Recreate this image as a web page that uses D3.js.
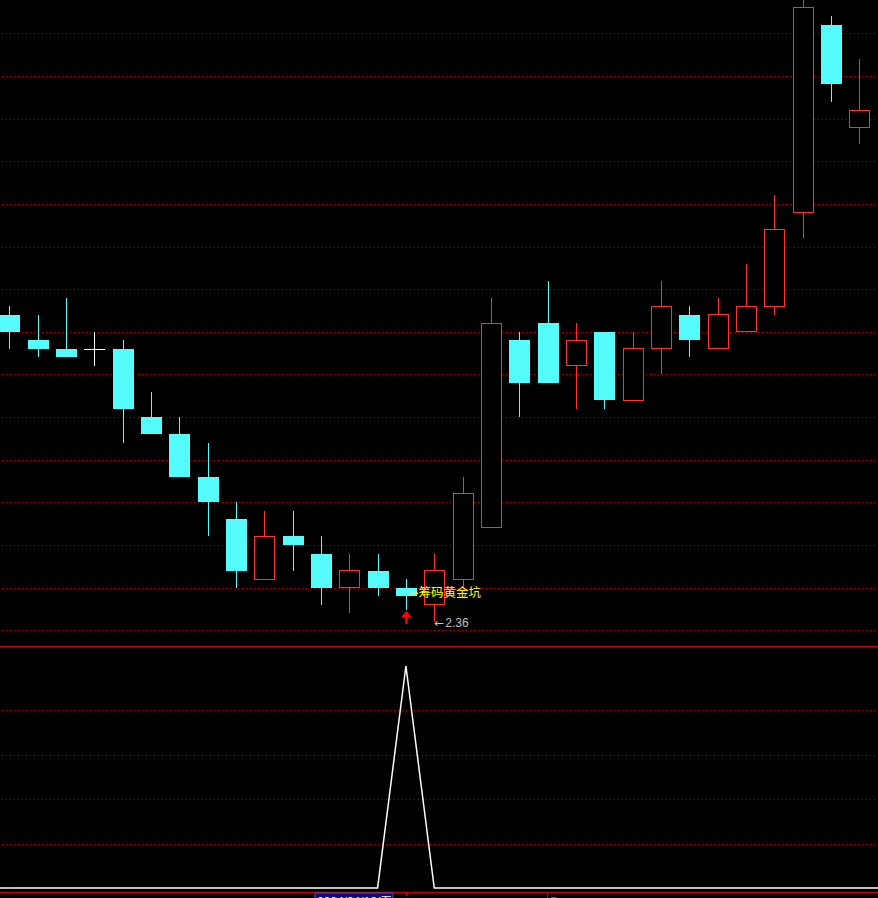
<!DOCTYPE html>
<html>
<style>
body { margin: 0; background: #000; }
svg { display: block; }
.grid line {
  stroke: #b00000;
  stroke-width: 1px;
  stroke-dasharray: 1,3;
}
</style>
<svg></svg>
<script src="https://cdn.jsdelivr.net/npm/d3@7"></script>
<script>
// daily OHLC, oldest first (last candle is cut off at the right edge)
var opens  = [2.72, 2.69, 2.68, 2.68, 2.68, 2.60, 2.58, 2.53, 2.48, 2.41, 2.46, 2.44, 2.40, 2.42, 2.40, 2.38,
              2.41, 2.47, 2.69, 2.71, 2.66, 2.70, 2.62, 2.68, 2.72, 2.68, 2.70, 2.73, 2.84, 3.06, 2.94, 2.95];
var highs  = [2.73, 2.72, 2.74, 2.70, 2.69, 2.63, 2.60, 2.57, 2.50, 2.49, 2.49, 2.46, 2.44, 2.44, 2.41, 2.44,
              2.53, 2.74, 2.70, 2.76, 2.71, 2.70, 2.70, 2.76, 2.73, 2.74, 2.78, 2.86, 3.10, 3.07, 3.02, 3.02];
var lows   = [2.68, 2.67, 2.67, 2.66, 2.57, 2.58, 2.53, 2.46, 2.40, 2.41, 2.42, 2.38, 2.37, 2.39, 2.374, 2.36,
              2.40, 2.47, 2.60, 2.64, 2.61, 2.61, 2.62, 2.65, 2.67, 2.68, 2.70, 2.72, 2.81, 2.97, 2.92, 2.94];
var closes = [2.70, 2.68, 2.67, 2.68, 2.61, 2.58, 2.53, 2.50, 2.42, 2.46, 2.45, 2.40, 2.42, 2.40, 2.39, 2.42,
              2.51, 2.71, 2.64, 2.64, 2.69, 2.62, 2.68, 2.73, 2.69, 2.72, 2.73, 2.82, 3.08, 2.99, 2.96, 3.00];

// lower pane signal (chip "golden pit")
var signal = [0, 0, 0, 0, 0, 0, 0, 0, 0, 0, 0, 0, 0, 0, 1, 0,
              0, 0, 0, 0, 0, 0, 0, 0, 0, 0, 0, 0, 0, 0, 0, 0];

var priceTicks = d3.range(15).map(function(i) { return 2.35 + i * 0.05; });
var signalTicks = [0.2, 0.4, 0.6, 0.8];
var signalIndex = 14;
var signalLabel = "筹码黄金坑";
var lowIndex = 15;
var lowLabel = "2.36";
var cursorDate = "2024/04/18/五";
var monthIndex = 19, monthLabel = "5";

var width = 878, height = 898;
var svg = d3.select("svg").attr("width", width).attr("height", height);
svg.append("rect").attr("width", width).attr("height", height).attr("fill", "#000");

var x = d3.scaleLinear().domain([0, 31]).range([9.3, 9.3 + 31 * 28.33]);
var y = d3.scaleLinear().domain([2.35, 3.05]).range([630.3, 33.3]);
var ys = d3.scaleLinear().domain([0, 1]).range([888, 666]);

var up = "#ff3232", down = "#54fcfc";

// grids
var grid = svg.append("g").attr("class", "grid");
grid.selectAll("line.p").data(priceTicks).enter().append("line")
    .attr("x1", 2).attr("x2", width)
    .attr("y1", function(d) { return Math.round(y(d)) + 0.5; })
    .attr("y2", function(d) { return Math.round(y(d)) + 0.5; });
grid.selectAll("line.s").data(signalTicks).enter().append("line")
    .attr("x1", 2).attr("x2", width)
    .attr("y1", function(d) { return Math.round(ys(d)) + 0.5; })
    .attr("y2", function(d) { return Math.round(ys(d)) + 0.5; });

// pane separator
svg.append("line").attr("x1", 0).attr("x2", width).attr("y1", 646.5).attr("y2", 646.5)
    .attr("stroke", "#c40000").attr("stroke-width", 1.5);

var candles = opens.map(function(o, i) {
  return { i: i, o: o, h: highs[i], l: lows[i], c: closes[i] };
});

var cg = svg.append("g").attr("shape-rendering", "crispEdges");

function colorOf(d) {
  if (d.c > d.o) return up;
  if (d.c < d.o) return down;
  return "#ffffff";
}

var k = cg.selectAll("g").data(candles).enter().append("g");

// upper wick
k.append("line")
    .attr("x1", function(d) { return Math.round(x(d.i)) + 0.5; })
    .attr("x2", function(d) { return Math.round(x(d.i)) + 0.5; })
    .attr("y1", function(d) { return y(d.h); })
    .attr("y2", function(d) { return y(Math.max(d.o, d.c)); })
    .attr("stroke", colorOf);
// lower wick
k.append("line")
    .attr("x1", function(d) { return Math.round(x(d.i)) + 0.5; })
    .attr("x2", function(d) { return Math.round(x(d.i)) + 0.5; })
    .attr("y1", function(d) { return y(Math.min(d.o, d.c)); })
    .attr("y2", function(d) { return y(d.l); })
    .attr("stroke", colorOf);

// bodies: filled for falling, hollow for rising, a bar for flat
k.append("rect")
    .attr("x", function(d) { return d.c > d.o ? Math.round(x(d.i)) - 10 + 0.5 : Math.round(x(d.i)) - 10; })
    .attr("y", function(d) {
      if (d.c === d.o) return Math.round(y(d.o));
      return y(Math.max(d.o, d.c));
    })
    .attr("width", function(d) { return d.c > d.o ? 20 : 21; })
    .attr("height", function(d) {
      if (d.c === d.o) return 1;
      return Math.abs(y(d.o) - y(d.c));
    })
    .attr("fill", function(d) { return d.c > d.o ? "#000" : colorOf(d); })
    .attr("stroke", function(d) { return d.c > d.o ? up : "none"; })
    .attr("stroke-width", 1);

// red arrow under the signal candle
var ax = Math.round(x(signalIndex)) + 0.5, ay = y(lows[signalIndex]) + 1;
svg.append("path")
    .attr("d", "M" + ax + "," + ay + "L" + (ax + 5.5) + "," + (ay + 6.5) + "L" + (ax + 1.3) + "," + (ay + 6.5) +
               "L" + (ax + 1.3) + "," + (ay + 13) + "L" + (ax - 1.3) + "," + (ay + 13) +
               "L" + (ax - 1.3) + "," + (ay + 6.5) + "L" + (ax - 5.5) + "," + (ay + 6.5) + "Z")
    .attr("fill", "#ff0000");

var sig = svg.append("text")
    .attr("x", x(signalIndex) + 2)
    .attr("y", y(closes[signalIndex]) + 1)
    .attr("fill", "#ffff00")
    .style("font", "12.5px 'Noto Sans CJK SC'");
sig.append("tspan").style("font-family", "'DejaVu Sans'").text("\u2192");
sig.append("tspan").text(signalLabel);

var lo = svg.append("text")
    .attr("x", x(lowIndex))
    .attr("y", y(lows[lowIndex]) + 5.5)
    .attr("fill", "#c0c0c0")
    .style("font", "12px 'Liberation Sans'");
lo.append("tspan").style("font-family", "'DejaVu Sans'").text("\u2190");
lo.append("tspan").attr("dx", 1).text(lowLabel);

// lower pane indicator
var line = d3.line()
    .x(function(d, i) { return x(i); })
    .y(function(d) { return ys(d); });
svg.append("line")
    .attr("x1", 0).attr("x2", x(0))
    .attr("y1", ys(signal[0])).attr("y2", ys(signal[0]))
    .attr("stroke", "#ffffff").attr("stroke-width", 1.5);
svg.append("path").datum(signal)
    .attr("d", line)
    .attr("fill", "none")
    .attr("stroke", "#ffffff")
    .attr("stroke-width", 1.5);

// bottom axis
svg.append("line").attr("x1", 0).attr("x2", width).attr("y1", 892.5).attr("y2", 892.5)
    .attr("stroke", "#c40000").attr("stroke-width", 1.5);
svg.append("line").attr("x1", Math.round(x(signalIndex)) + 0.5).attr("x2", Math.round(x(signalIndex)) + 0.5)
    .attr("y1", 892).attr("y2", 896).attr("stroke", "#c40000");
svg.append("line").attr("x1", Math.round(x(monthIndex)) - 0.5).attr("x2", Math.round(x(monthIndex)) - 0.5)
    .attr("y1", 892).attr("y2", height).attr("stroke", "#c40000");
svg.append("text")
    .attr("x", Math.round(x(monthIndex)) + 2).attr("y", 906)
    .attr("fill", "#ff3232")
    .style("font", "12px 'Liberation Sans'")
    .text(monthLabel);

svg.append("rect")
    .attr("x", x(signalIndex) - 91).attr("y", 893)
    .attr("width", 78).attr("height", 10)
    .attr("fill", "#0c0c84").attr("stroke", "#5050c0").attr("stroke-width", 1);
svg.append("text")
    .attr("x", x(signalIndex) - 89).attr("y", 906)
    .attr("fill", "#ffffff")
    .style("font", "12px 'Liberation Sans', 'Noto Sans CJK SC'")
    .text(cursorDate);
</script>
</html>
